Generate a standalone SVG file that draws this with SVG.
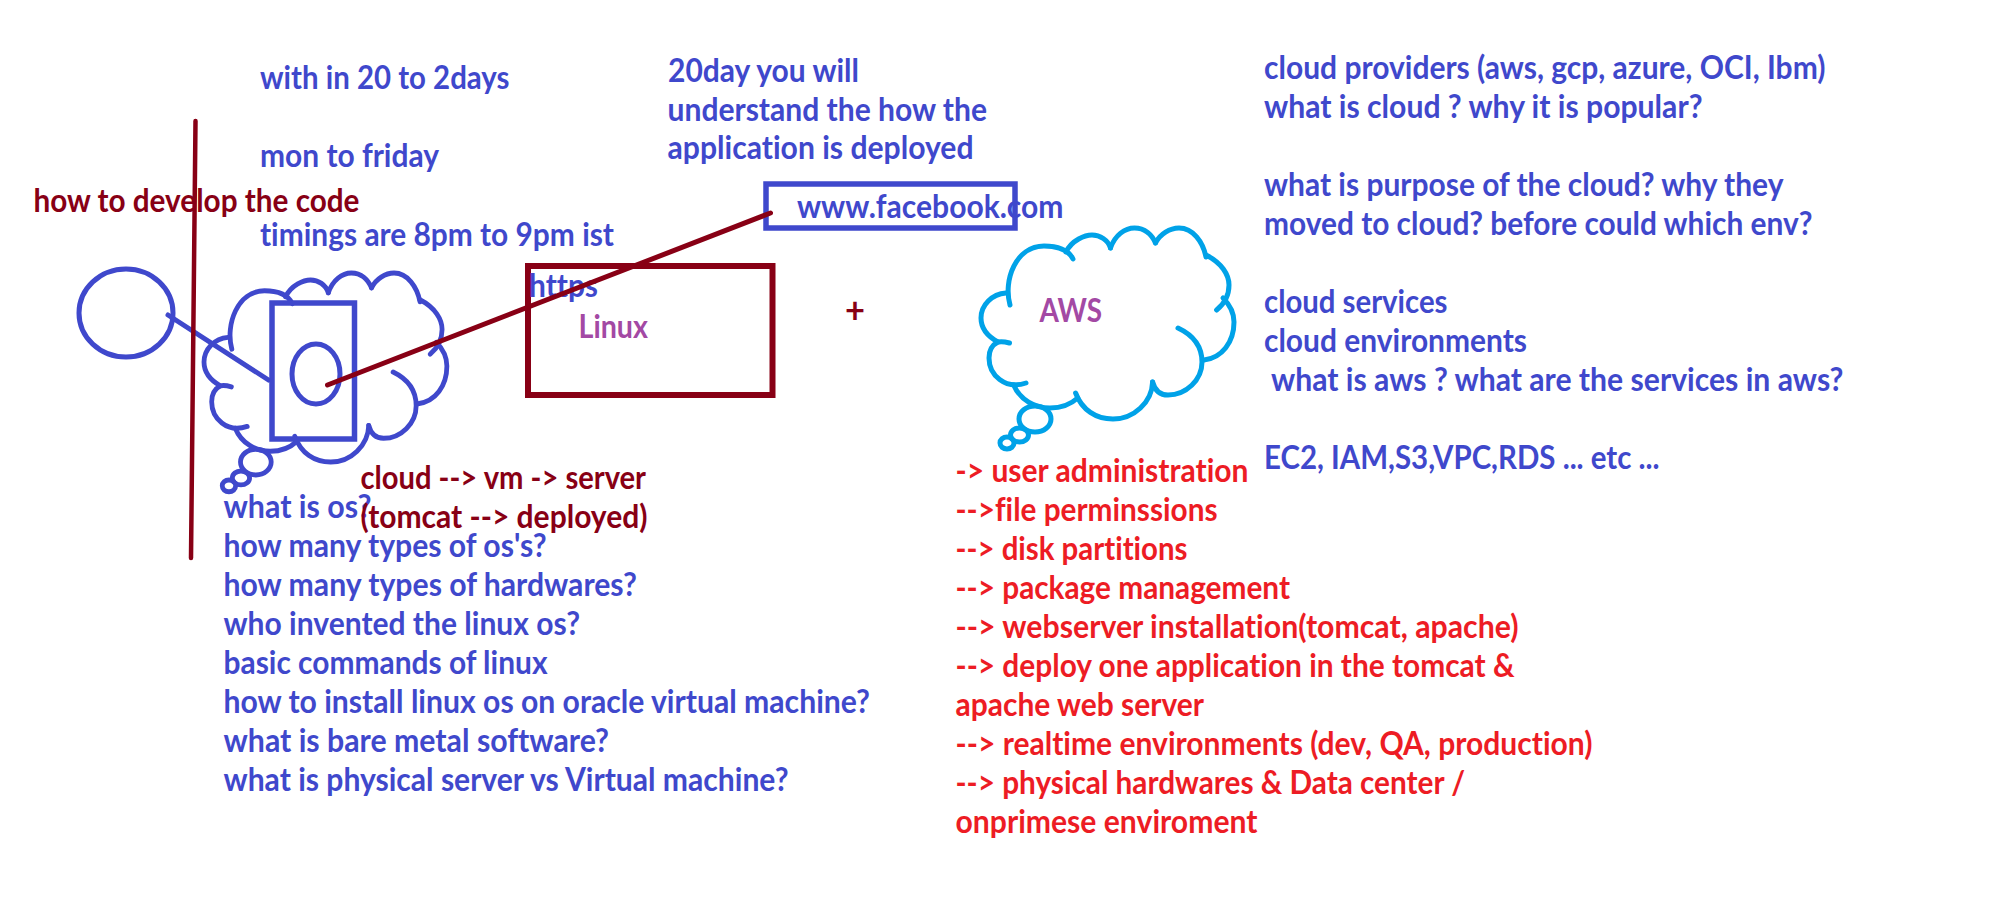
<svg xmlns="http://www.w3.org/2000/svg" xmlns:xlink="http://www.w3.org/1999/xlink" width="2000" height="905" viewBox="0 0 2000 905">
<style>
text{font-family:Lato,"Liberation Sans",sans-serif;font-weight:700;font-size:31.5px;white-space:pre;font-variant-ligatures:none;font-kerning:normal}
.b{fill:#3F48CC}.m{fill:#880015}.r{fill:#ED1C24}.p{fill:#A349A4}
.s{fill:none;stroke-linecap:round;stroke-linejoin:round}
.sb{stroke:#3F48CC}.sm{stroke:#880015}
</style>
<defs>
<g id="cloud" fill="none" stroke-linecap="round" stroke-width="5">
<path d="M1010,305C1003,280 1016,246 1044,246C1056,246 1068,249 1073,259"/>
<path d="M1066,252C1072,240 1085,235 1092,235C1100,235 1108,240 1110.5,248"/>
<path d="M1110.5,248C1115,235 1125,228 1134.5,228C1145,228 1152,235 1155.5,243"/>
<path d="M1155.5,243C1160,234 1170,228 1179,228C1193,228 1203,242 1206,257"/>
<path d="M1206,255C1222,263 1229,275 1229,285C1229,295 1224,304 1216.6,310"/>
<path d="M1223,298C1231,306 1234,314 1234,322C1234,342 1222,358 1204,360"/>
<path d="M1178,328C1195,336 1202,348 1202,362C1202,380 1186,395 1168,395C1160,395 1155,391 1152.6,382"/>
<path d="M1152.6,382C1152,402 1134,419 1113,419C1096,419 1082,410 1075.6,393"/>
<path d="M1077.7,398C1070,405 1060,408 1050,408C1035,408 1020,400 1013.7,385"/>
<path d="M1026,383C1005,390 989,375 989,358C989,350 992,345 998,342C1002,341 1006,342 1009.5,343"/>
<path d="M998,342C987,336 981,328 981,318C981,305 992,294 1006,293"/>
<ellipse cx="1035" cy="419" rx="16" ry="13"/>
<ellipse cx="1019.5" cy="435" rx="9" ry="7"/>
<ellipse cx="1007" cy="443" rx="7" ry="6"/>
</g>
</defs>
<rect width="2000" height="905" fill="#fff"/>
<g id="user"><ellipse class="s sb" stroke-width="5" cx="126" cy="313" rx="47" ry="44"/></g>
<g id="cloud-server">
<use xlink:href="#cloud" href="#cloud" stroke="#3F48CC" transform="translate(204 273) scale(.96 .99) translate(-981 -228)"/>
<rect fill="none" stroke="#3F48CC" stroke-width="5.5" x="272" y="303" width="82.5" height="136"/>
<ellipse class="s sb" stroke-width="5" cx="316" cy="374" rx="24" ry="30"/>
</g>
<g id="cloud-aws">
<use xlink:href="#cloud" href="#cloud" stroke="#00A2E8"/>
<text class="p" x="1039.5" y="321.5" textLength="62.5" lengthAdjust="spacingAndGlyphs">AWS</text>
</g>
<g id="linux-box">
<rect fill="none" stroke="#880015" stroke-width="6" x="528" y="266" width="244.5" height="129"/>
<text class="p" x="578.5" y="338" textLength="69.5" lengthAdjust="spacingAndGlyphs">Linux</text>
</g>
<g id="facebook">
<text class="b" x="797" y="218" textLength="266.5" lengthAdjust="spacingAndGlyphs">www.facebook.com</text>
<rect fill="none" stroke="#3F48CC" stroke-width="5.5" x="766" y="184" width="249" height="44"/>
</g>
<g id="plus"><text class="m" x="845" y="323" style="font-size:36px" textLength="20" lengthAdjust="spacingAndGlyphs">+</text></g>
<g id="schedule">
<text class="b" x="260" y="89" textLength="249.5" lengthAdjust="spacingAndGlyphs">with in 20 to 2days</text>
<text class="b" x="260" y="167" textLength="179" lengthAdjust="spacingAndGlyphs">mon to friday</text>
<text class="b" x="260" y="245.5" textLength="354" lengthAdjust="spacingAndGlyphs">timings are 8pm to 9pm ist</text>
</g>
<g id="develop"><text class="m" x="33.5" y="211.5" textLength="326" lengthAdjust="spacingAndGlyphs">how to develop the code</text></g>
<g id="https"><text class="b" x="529" y="297" textLength="69" lengthAdjust="spacingAndGlyphs">https</text></g>
<g id="twenty-day">
<text class="b" x="668" y="82" textLength="191" lengthAdjust="spacingAndGlyphs">20day you will</text>
<text class="b" x="667.5" y="120.5" textLength="319.5" lengthAdjust="spacingAndGlyphs">understand the how the</text>
<text class="b" x="667.5" y="159" textLength="306" lengthAdjust="spacingAndGlyphs">application is deployed</text>
</g>
<g id="linux-questions">
<text class="b" x="223.5" y="517.5" textLength="148" lengthAdjust="spacingAndGlyphs">what is os?</text>
<text class="b" x="223.5" y="556.5" textLength="323" lengthAdjust="spacingAndGlyphs">how many types of os's?</text>
<text class="b" x="223.5" y="595.5" textLength="413.5" lengthAdjust="spacingAndGlyphs">how many types of hardwares?</text>
<text class="b" x="223.5" y="634.5" textLength="356.5" lengthAdjust="spacingAndGlyphs">who invented the linux os?</text>
<text class="b" x="223.5" y="673.5" textLength="324" lengthAdjust="spacingAndGlyphs">basic commands of linux</text>
<text class="b" x="223.5" y="712.5" textLength="646.5" lengthAdjust="spacingAndGlyphs">how to install linux os on oracle virtual machine?</text>
<text class="b" x="223.5" y="751.5" textLength="385.5" lengthAdjust="spacingAndGlyphs">what is bare metal software?</text>
<text class="b" x="223.5" y="790.5" textLength="565" lengthAdjust="spacingAndGlyphs">what is physical server vs Virtual machine?</text>
</g>
<g id="cloud-vm">
<text class="m" x="360.5" y="489" textLength="285.5" lengthAdjust="spacingAndGlyphs">cloud --&gt; vm -&gt; server</text>
<text class="m" x="360.5" y="528" textLength="287" lengthAdjust="spacingAndGlyphs">(tomcat --&gt; deployed)</text>
</g>
<g id="admin-topics">
<text class="r" x="955.5" y="481.5" textLength="293" lengthAdjust="spacingAndGlyphs">-&gt; user administration</text>
<text class="r" x="955.5" y="520.5" textLength="262" lengthAdjust="spacingAndGlyphs">--&gt;file perminssions</text>
<text class="r" x="955.5" y="559.5" textLength="232" lengthAdjust="spacingAndGlyphs">--&gt; disk partitions</text>
<text class="r" x="955.5" y="598.5" textLength="334.5" lengthAdjust="spacingAndGlyphs">--&gt; package management</text>
<text class="r" x="955.5" y="637.5" textLength="563" lengthAdjust="spacingAndGlyphs">--&gt; webserver installation(tomcat, apache)</text>
<text class="r" x="955.5" y="676.5" textLength="559" lengthAdjust="spacingAndGlyphs">--&gt; deploy one application in the tomcat &amp;</text>
<text class="r" x="955.5" y="715.5" textLength="248.5" lengthAdjust="spacingAndGlyphs">apache web server</text>
<text class="r" x="955.5" y="754.5" textLength="637" lengthAdjust="spacingAndGlyphs">--&gt; realtime environments (dev, QA, production)</text>
<text class="r" x="955.5" y="793.5" textLength="509.5" lengthAdjust="spacingAndGlyphs">--&gt; physical hardwares &amp; Data center /</text>
<text class="r" x="955.5" y="832.5" textLength="302" lengthAdjust="spacingAndGlyphs">onprimese enviroment</text>
</g>
<g id="cloud-topics">
<text class="b" x="1264" y="78.5" textLength="561.5" lengthAdjust="spacingAndGlyphs">cloud providers (aws, gcp, azure, OCI, Ibm)</text>
<text class="b" x="1264" y="117.5" textLength="438.5" lengthAdjust="spacingAndGlyphs">what is cloud ? why it is popular?</text>
<text class="b" x="1264" y="195.5" textLength="519.5" lengthAdjust="spacingAndGlyphs">what is purpose of the cloud? why they</text>
<text class="b" x="1264" y="234.5" textLength="548.5" lengthAdjust="spacingAndGlyphs">moved to cloud? before could which env?</text>
<text class="b" x="1264" y="312.5" textLength="183.5" lengthAdjust="spacingAndGlyphs">cloud services</text>
<text class="b" x="1264" y="351.5" textLength="263" lengthAdjust="spacingAndGlyphs">cloud environments</text>
<text class="b" x="1271" y="390.5" textLength="572.5" lengthAdjust="spacingAndGlyphs">what is aws ? what are the services in aws?</text>
<text class="b" x="1264" y="468.5" textLength="395.5" lengthAdjust="spacingAndGlyphs">EC2, IAM,S3,VPC,RDS ... etc ...</text>
</g>
<g id="connectors">
<path class="s sb" stroke-width="5" d="M168,315L268.5,380"/>
<path class="s sm" stroke-width="5" d="M327.5,385L770.5,213"/>
<path class="s sm" stroke-width="4.5" d="M195.5,121L191,558"/>
</g>
</svg>
